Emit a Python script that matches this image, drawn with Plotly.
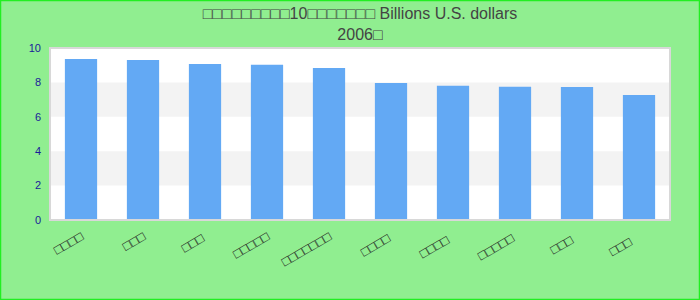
import plotly.graph_objects as go

# Glyphs in the reference render as missing-glyph boxes; reproduced as placeholders
categories = ["□□□□", "□□□", "□□□ ", "□□□□□", "□□□□□□□",
              "□□□□ ", "□□□□  ", "□□□□□ ", "□□□  ", "□□□   "]
values = [9.36, 9.3, 9.07, 9.02, 8.84, 7.97, 7.8, 7.74, 7.73, 7.27]
title_line1 = "□□□□□□□□□10□□□□□□□ Billions U.S. dollars"
title_line2 = "2006□"
y_ticks = [0, 2, 4, 6, 8, 10]

W, H = 700, 300
L, R, T, B = 50, 30, 48, 80
pw, ph = W - L - R, H - T - B

fig = go.Figure(go.Bar(
    x=categories, y=values,
    marker=dict(color="#63a9f4", line=dict(width=0)),
    width=0.52,
    hoverinfo="x+y",
))

shapes = []
for lo, hi in [(2, 4), (6, 8)]:
    shapes.append(dict(type="rect", xref="paper", yref="y", x0=0, x1=1, y0=lo, y1=hi,
                       fillcolor="#f3f3f3", line=dict(width=0), layer="below"))
shapes.append(dict(type="rect", xref="paper", yref="paper", x0=0, x1=1, y0=0, y1=1,
                   line=dict(color="#d8d8d8", width=2), layer="above"))
shapes.append(dict(type="rect", xref="paper", yref="paper",
                   x0=-L / pw + 0.5 / pw, x1=1 + (R - 0.5) / pw,
                   y0=-B / ph + 0.5 / ph, y1=1 + (T - 0.5) / ph,
                   line=dict(color="#22ee22", width=1.5), layer="above"))

fig.update_layout(
    width=W, height=H,
    margin=dict(l=L, r=R, t=T, b=B, pad=0),
    paper_bgcolor="#90ee90",
    plot_bgcolor="#ffffff",
    font=dict(family="Liberation Sans, Arial, sans-serif"),
    title=dict(text=title_line1 + "<br>" + title_line2, x=0.5, xanchor="center",
               xref="paper", yref="container", y=1 - 19 / H, yanchor="bottom",
               font=dict(size=16, color="#444444")),
    showlegend=False,
    shapes=shapes,
    xaxis=dict(tickangle=-30, tickfont=dict(size=13, color="#222222"),
               showgrid=False, showline=False, ticks="", zeroline=False,
               ticklabelstandoff=6),
    yaxis=dict(range=[0, 10], tickvals=y_ticks, tickfont=dict(size=11, color="#1a1a9a"),
               showgrid=False, zeroline=False, showline=False, ticks="",
               ticklabelstandoff=8),
)

fig.write_html("out.html")
